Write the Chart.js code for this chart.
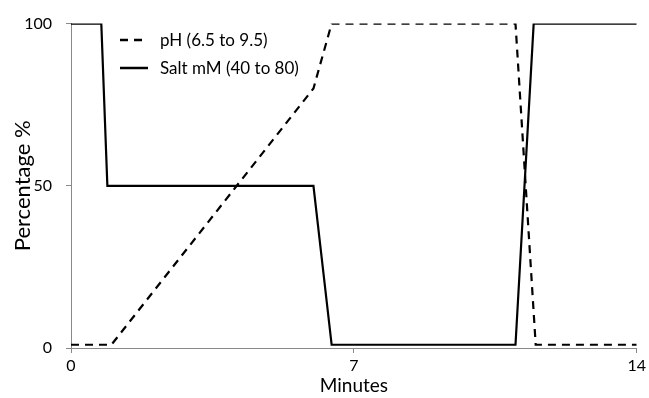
<!DOCTYPE html>
<html>
<head>
<meta charset="utf-8">
<script src="https://cdn.jsdelivr.net/npm/chart.js@4/dist/chart.umd.min.js"></script>
<style>
  html, body { margin: 0; padding: 0; background: #fff; }
  #wrap { width: 649px; height: 398px; }
</style>
</head>
<body>
<div id="wrap"><canvas id="c" width="649" height="398"></canvas></div>
<script>
// Gradient program: time (minutes) vs percentage of each gradient
const phTime  = [0, 1, 6, 6.45, 11, 11.5, 14];
const phPct   = [1, 1, 80, 100, 100, 1, 1];
const saltTime = [0, 0.75, 0.9, 6, 6.45, 11, 11.45, 14];
const saltPct  = [100, 100, 50, 50, 1, 1, 100, 100];

const seriesLabels = ['pH (6.5 to 9.5)', 'Salt mM (40 to 80)'];
const xTicks = [0, 7, 14];
const yTicks = [0, 50, 100];
const xTitle = 'Minutes';
const yTitle = 'Percentage %';

const FONT = 'Lato, "Open Sans", sans-serif';
const AXIS = '#898989';

const toPoints = (xs, ys) => xs.map((x, i) => ({ x: x, y: ys[i] }));

// Legend drawn inside the plot area, top-left, stacked vertically
const insideLegend = {
  id: 'insideLegend',
  afterDraw(chart) {
    const ctx = chart.ctx;
    const x0 = 120, len = 28, gap = 12, y0 = 40, row = 28;
    ctx.save();
    ctx.font = '17px ' + FONT;
    ctx.textBaseline = 'middle';
    chart.data.datasets.forEach((ds, i) => {
      const y = y0 + i * row;
      ctx.strokeStyle = ds.borderColor;
      ctx.lineWidth = ds.borderWidth + 0.3;
      ctx.setLineDash(ds.borderDash || []);
      ctx.beginPath();
      ctx.moveTo(x0, y);
      ctx.lineTo(x0 + len, y);
      ctx.stroke();
      ctx.setLineDash([]);
      ctx.fillStyle = '#000';
      ctx.fillText(ds.label, x0 + len + gap, y + 1);
    });
    ctx.restore();
  }
};

new Chart(document.getElementById('c'), {
  type: 'scatter',
  data: {
    datasets: [
      {
        label: seriesLabels[0],
        data: toPoints(phTime, phPct),
        showLine: true,
        borderColor: '#000',
        borderWidth: 2.2,
        borderDash: [8, 6],
        pointRadius: 0,
        tension: 0,
        fill: false
      },
      {
        label: seriesLabels[1],
        data: toPoints(saltTime, saltPct),
        showLine: true,
        borderColor: '#000',
        borderWidth: 2.2,
        pointRadius: 0,
        tension: 0,
        fill: false
      }
    ]
  },
  options: {
    responsive: false,
    animation: false,
    layout: { padding: { top: 21, right: 9, left: 0, bottom: 0 } },
    plugins: {
      legend: { display: false },
      tooltip: { enabled: false }
    },
    scales: {
      x: {
        type: 'linear',
        min: 0,
        max: 14,
        afterBuildTicks(scale) { scale.ticks = xTicks.map(v => ({ value: v })); },
        afterFit(scale) { scale.height = 50; },
        grid: { drawOnChartArea: false, drawTicks: true, tickLength: 5, color: AXIS },
        border: { color: AXIS, width: 1 },
        ticks: { color: '#000', font: { family: FONT, size: 16 }, padding: 3, maxRotation: 0 },
        title: { display: true, text: xTitle, color: '#000', font: { family: FONT, size: 19 }, padding: { top: 0, bottom: 1 } }
      },
      y: {
        type: 'linear',
        min: 0,
        max: 100,
        afterBuildTicks(scale) { scale.ticks = yTicks.map(v => ({ value: v })); },
        afterFit(scale) { scale.width = 71; },
        grid: { drawOnChartArea: false, drawTicks: true, tickLength: 5, color: AXIS },
        border: { color: AXIS, width: 1 },
        ticks: { color: '#000', font: { family: FONT, size: 16 }, padding: 14 },
        title: { display: true, text: yTitle, color: '#000', font: { family: FONT, size: 22 }, padding: { top: 10, bottom: 0 } }
      }
    }
  },
  plugins: [insideLegend]
});
</script>
</body>
</html>
